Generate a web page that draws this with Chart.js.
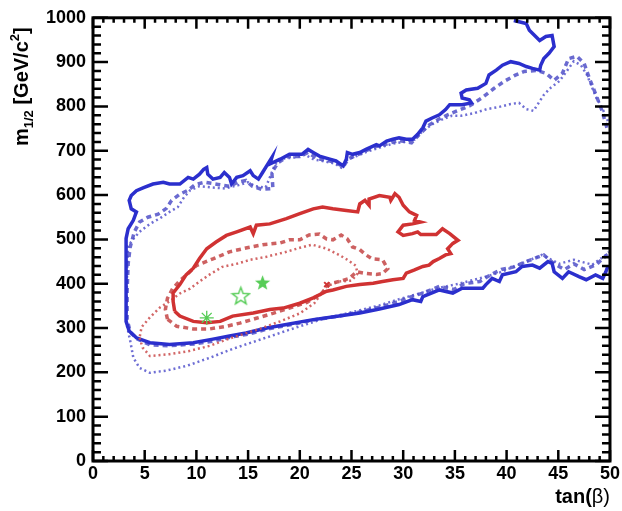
<!DOCTYPE html>
<html lang="en">
<head>
<meta charset="UTF-8">
<title>m1/2 vs tan(beta)</title>
<script src="https://cdn.jsdelivr.net/npm/chart.js"></script>
<style>
  html, body { margin: 0; padding: 0; background: #fff; }
</style>
</head>
<body>
<canvas id="myChart" width="622" height="511"></canvas>
<script>
// contour lines, [tan(beta), m1/2] pairs
const blueSolid = [[40.7,994],[41.9,987],[42.2,972],[43.2,949],[43.8,958],[44.4,960],[44.6,935],[44.1,920],[43.6,908],[43.3,893],[43.2,882],[42.5,886],[41.9,890],[41.2,897],[40.4,901],[39.6,893],[39.0,882],[38.3,871],[38.0,852],[37.2,841],[36.1,837],[35.6,830],[35.7,819],[36.4,815],[36.6,808],[35.7,804],[34.5,804],[34.1,793],[33.5,781],[32.8,774],[32.2,767],[31.9,752],[31.4,737],[30.9,726],[30.3,726],[29.6,729],[29.0,726],[28.4,722],[27.7,711],[27.4,714],[26.4,703],[25.8,696],[25.1,692],[24.6,696],[24.5,681],[24.2,666],[23.5,677],[22.9,681],[21.9,688],[21.3,696],[20.8,703],[20.2,692],[19.0,692],[18.1,681],[17.1,670],[17.3,685],[16.9,670],[16.4,651],[16.0,636],[15.5,644],[15.2,655],[14.5,644],[13.9,640],[13.4,625],[13.2,640],[12.7,651],[12.3,640],[11.6,636],[11.1,647],[11.0,662],[10.7,658],[10.3,647],[9.7,636],[9.2,640],[8.4,625],[7.4,625],[6.8,629],[5.8,625],[4.9,617],[4.2,610],[3.7,599],[3.5,588],[3.7,569],[4.2,562],[3.9,543],[3.4,524],[3.2,502],[3.2,457],[3.2,398],[3.2,353],[3.2,315],[3.5,293],[4.2,278],[5.5,267],[7.4,263],[9.7,267],[11.6,275],[13.2,282],[14.8,289],[16.8,300],[18.7,308],[21.3,319],[23.8,327],[25.8,334],[27.7,343],[29.6,353],[30.9,364],[31.7,360],[31.9,371],[33.5,386],[34.8,379],[35.7,390],[37.7,390],[38.0,398],[38.6,412],[39.3,405],[39.6,420],[40.9,427],[41.5,439],[42.5,442],[43.2,435],[44.0,450],[44.4,446],[44.6,427],[45.4,412],[46.0,427],[47.0,416],[47.7,409],[48.6,420],[49.3,412],[49.6,427],[49.8,440]];

const blueDashed = [[49.7,752],[49.2,792],[48.7,823],[48.0,864],[47.5,897],[46.8,913],[46.0,908],[45.4,875],[44.6,859],[43.8,875],[42.9,881],[41.7,879],[40.8,870],[39.8,857],[38.8,841],[37.6,819],[36.4,801],[35.2,790],[34.3,781],[33.5,772],[32.5,758],[31.6,738],[30.8,718],[29.6,723],[28.5,716],[27.3,709],[26.4,700],[25.6,691],[24.7,682],[24.2,664],[23.5,673],[22.7,678],[21.7,682],[20.8,696],[20.0,687],[18.8,687],[17.9,673],[17.3,651],[17.4,615],[16.3,613],[15.4,620],[14.8,633],[14.0,629],[13.2,620],[12.1,624],[10.8,629],[9.9,624],[9.2,611],[8.4,602],[7.6,588],[7.1,570],[6.3,557],[5.3,550],[4.5,539],[4.0,517],[3.6,483],[3.4,445],[3.3,383],[3.3,320],[3.6,291],[4.3,275],[5.5,262],[7.4,260],[9.8,264],[11.7,271],[13.4,280],[15.0,286],[16.9,298],[18.8,306],[21.3,318],[23.8,327],[25.8,336],[27.7,347],[29.6,360],[30.8,371],[31.8,378],[33.5,394],[34.9,387],[35.9,400],[37.4,405],[38.5,421],[39.5,432],[40.7,438],[41.9,450],[43.6,465],[44.6,445],[45.6,432],[46.5,445],[47.5,432],[48.7,443],[49.4,459],[49.9,468]];

const blueDotted = [[49.8,767],[49.2,799],[48.7,819],[48.3,841],[47.8,870],[47.2,893],[46.5,902],[45.8,879],[45.1,857],[44.3,843],[43.6,826],[43.1,808],[42.6,790],[41.9,794],[41.2,808],[40.3,805],[39.3,799],[38.1,794],[36.9,785],[35.6,779],[34.7,779],[33.9,772],[32.9,761],[31.9,745],[31.1,725],[30.1,720],[29.0,716],[27.7,707],[26.5,698],[25.6,689],[24.6,680],[24.0,662],[23.4,671],[22.4,676],[21.4,680],[20.5,691],[19.5,685],[18.3,682],[17.6,669],[17.1,640],[16.7,617],[15.7,620],[15.0,629],[14.0,622],[12.8,615],[11.5,617],[10.3,620],[9.4,611],[8.8,595],[8.2,573],[7.4,562],[6.5,548],[5.5,535],[4.5,517],[3.9,501],[3.4,485],[3.3,427],[3.25,360],[3.25,309],[3.6,271],[3.9,233],[4.5,210],[5.5,199],[7.1,204],[9.1,215],[11.3,233],[13.5,253],[15.8,271],[18.1,289],[20.0,304],[21.9,318],[23.8,329],[25.8,340],[27.7,351],[29.6,365],[31.6,378],[33.5,391],[35.4,400],[37.4,412],[39.3,425],[41.2,443],[43.4,465],[45.1,445],[46.5,454],[48.3,443],[49.6,465],[49.9,472]];

const redSolid = [[7.9,338],[7.75,360],[7.75,379],[8.4,398],[9.0,420],[9.7,435],[10.3,457],[11.0,479],[11.9,494],[12.9,509],[13.9,517],[15.2,528],[15.5,513],[15.8,532],[17.1,535],[18.7,547],[20.0,558],[21.3,569],[22.2,573],[23.2,569],[24.5,565],[25.6,562],[25.8,580],[26.3,588],[26.7,577],[26.7,591],[27.7,599],[28.7,595],[28.8,588],[29.2,603],[29.6,595],[30.0,577],[30.6,562],[31.3,554],[31.1,543],[31.7,539],[30.9,535],[30.0,532],[29.5,517],[30.0,509],[30.9,513],[31.4,517],[31.7,511],[33.2,511],[33.8,524],[34.5,513],[35.3,498],[34.8,491],[34.3,479],[34.6,468],[34.1,465],[33.5,457],[32.9,450],[32.5,442],[31.9,439],[31.1,431],[30.3,424],[30.0,412],[29.0,409],[28.0,405],[27.1,401],[25.8,398],[24.5,394],[23.2,386],[22.6,383],[21.3,368],[20.0,356],[18.4,345],[17.1,342],[15.5,334],[13.5,327],[12.3,315],[11.0,312],[9.7,315],[8.4,327]];

const redDashed = [[7.2,320],[7.0,342],[7.2,367],[7.7,389],[8.4,407],[9.2,423],[10.0,441],[11.6,456],[13.2,472],[14.9,481],[16.4,488],[18.1,492],[19.0,499],[20.0,499],[20.9,510],[21.9,512],[22.6,501],[23.2,499],[24.0,510],[24.6,501],[25.1,483],[25.8,477],[26.4,465],[27.0,456],[28.0,454],[28.5,434],[28.0,423],[27.4,421],[26.4,423],[25.5,427],[24.8,412],[23.8,405],[22.9,400],[22.1,378],[20.7,358],[19.0,345],[17.4,333],[15.8,322],[14.2,311],[12.9,304],[11.3,298],[9.7,298],[8.1,304]];

const redDotted = [[4.5,278],[4.8,256],[5.5,237],[7.4,241],[9.3,248],[11.3,260],[12.9,274],[14.5,286],[16.1,298],[18.1,315],[20.0,333],[21.4,356],[22.6,394],[23.8,405],[25.0,407],[25.6,423],[25.4,441],[24.6,454],[23.8,465],[22.6,479],[21.2,488],[20.0,481],[18.7,472],[16.8,461],[15.2,454],[13.9,445],[12.5,438],[11.3,421],[10.3,405],[9.4,389],[8.4,378],[7.4,360],[6.5,347],[5.5,324],[4.7,302]];

// best-fit points
const bestFilledStar = [[16.4,403]];
const bestOpenStar = [[14.3,373]];
const bestAsterisk = [[11.0,323]];
const bestCross = [[22.6,398]];

const xTickStep = 5, xMinorStep = 1, xMax = 50;
const yTickStep = 100, yMinorStep = 20, yMax = 1000;

function pts(arr, closed) {
    const out = arr.map(p => ({x: p[0], y: p[1]}));
    if (closed) out.push({x: arr[0][0], y: arr[0][1]});
    return out;
}

function starImage(size, filled, color) {
    const c = document.createElement('canvas');
    c.width = size; c.height = size;
    const g = c.getContext('2d');
    const r = size / 2 - 1.5, ri = r * 0.42, cx = size / 2, cy = size / 2 + 0.8;
    g.beginPath();
    for (let i = 0; i < 10; i++) {
        const a = -Math.PI / 2 + i * Math.PI / 5;
        const rr = i % 2 ? ri : r;
        g.lineTo(cx + rr * Math.cos(a), cy + rr * Math.sin(a));
    }
    g.closePath();
    if (filled) { g.fillStyle = color; g.fill(); }
    else { g.strokeStyle = color; g.lineWidth = 1.4; g.stroke(); }
    return c;
}

const green = '#55cc55';

function lineSet(label, arr, closed, color, width, dash) {
    return {
        label: label, data: pts(arr, closed), showLine: true, fill: false,
        borderColor: color, borderWidth: width, borderDash: dash,
        pointRadius: 0, tension: 0
    };
}

const frameTicks = {
    id: 'frameTicks',
    afterDatasetsDraw(chart) {
        const ctx = chart.ctx, a = chart.chartArea;
        const xs = chart.scales.x, ys = chart.scales.y;
        ctx.save();
        ctx.strokeStyle = '#000';
        ctx.lineWidth = 2.5;
        ctx.beginPath();
        for (let v = 0; v <= xMax; v += xMinorStep) {
            const px = xs.getPixelForValue(v);
            const len = v % xTickStep === 0 ? 11 : 5;
            ctx.moveTo(px, a.bottom); ctx.lineTo(px, a.bottom - len);
            ctx.moveTo(px, a.top); ctx.lineTo(px, a.top + len);
        }
        for (let v = 0; v <= yMax; v += yMinorStep) {
            const py = ys.getPixelForValue(v);
            const len = v % yTickStep === 0 ? 15 : 8;
            ctx.moveTo(a.left, py); ctx.lineTo(a.left + len, py);
            ctx.moveTo(a.right, py); ctx.lineTo(a.right - len, py);
        }
        ctx.stroke();
        ctx.lineWidth = 3;
        ctx.strokeRect(a.left, a.top, a.right - a.left, a.bottom - a.top);

        // y title, rotated, with sub and superscript
        ctx.fillStyle = '#000';
        ctx.textBaseline = 'alphabetic';
        ctx.textAlign = 'left';
        ctx.translate(28, 146);
        ctx.rotate(-Math.PI / 2);
        const parts = [['m', 20, 0], ['1/2', 13, 5], [' [GeV/c', 20, 0], ['2', 13, -9], [']', 20, 0]];
        let pos = 0;
        parts.forEach(p => {
            ctx.font = 'bold ' + p[1] + 'px "Liberation Sans", Arial, sans-serif';
            ctx.fillText(p[0], pos, p[2]);
            pos += ctx.measureText(p[0]).width;
        });
        ctx.setTransform(1, 0, 0, 1, 0, 0);

        // x title
        ctx.font = 'bold 20px "Liberation Sans", Arial, sans-serif';
        const w1 = ctx.measureText('tan(').width;
        ctx.font = '20px "Liberation Sans", Arial, sans-serif';
        const w2 = ctx.measureText('\u03b2)').width;
        const x0 = a.right - w1 - w2;
        ctx.font = 'bold 20px "Liberation Sans", Arial, sans-serif';
        ctx.fillText('tan(', x0, 503);
        ctx.font = '20px "Liberation Sans", Arial, sans-serif';
        ctx.fillText('\u03b2)', x0 + w1, 503);
        ctx.restore();
    }
};

const tickFont = {family: '"Liberation Sans", Arial, sans-serif', size: 18, weight: 'bold'};

const config = {
    type: 'scatter',
    data: {
        datasets: [
            {label: 'best fit', data: pts(bestFilledStar), pointStyle: starImage(19, true, green), pointRadius: 9},
            {label: 'open star', data: pts(bestOpenStar), pointStyle: starImage(21, false, green), pointRadius: 10},
            {label: 'asterisk', data: pts(bestAsterisk), pointStyle: 'star', pointRadius: 7, borderColor: green, borderWidth: 1.3, backgroundColor: green},
            {label: 'cross', data: pts(bestCross), pointStyle: 'crossRot', pointRadius: 3.5, borderColor: '#d03535', borderWidth: 2},
            lineSet('red solid', redSolid, true, '#d03232', 3.5, []),
            lineSet('red dashed', redDashed, true, 'rgba(200,80,80,0.9)', 3.5, [5, 4]),
            lineSet('red dotted', redDotted, true, 'rgba(205,85,85,0.9)', 2.5, [2, 3]),
            lineSet('blue solid', blueSolid, false, '#2b2fcd', 3.5, []),
            lineSet('blue dashed', blueDashed, false, 'rgba(80,80,200,0.85)', 3.5, [5, 4]),
            lineSet('blue dotted', blueDotted, false, 'rgba(85,85,205,0.85)', 2.5, [2, 3])
        ]
    },
    options: {
        responsive: false,
        animation: false,
        layout: {padding: {top: 14, right: 11, bottom: 0, left: 0}},
        plugins: {legend: {display: false}, tooltip: {enabled: false}},
        scales: {
            x: {
                type: 'linear', min: 0, max: xMax,
                grid: {display: false, drawTicks: false},
                border: {display: false},
                ticks: {stepSize: xTickStep, color: '#000', font: tickFont, padding: 2, maxRotation: 0,
                        callback: v => String(v)},
                afterFit: s => { s.height = 50; }
            },
            y: {
                type: 'linear', min: 0, max: yMax,
                grid: {display: false, drawTicks: false},
                border: {display: false},
                ticks: {stepSize: yTickStep, color: '#000', font: tickFont, padding: 7,
                        callback: v => String(v)},
                afterFit: s => { s.width = 93; }
            }
        }
    },
    plugins: [frameTicks]
};

const ctx = document.getElementById('myChart').getContext('2d');
const myChart = new Chart(ctx, config);
</script>
</body>
</html>
